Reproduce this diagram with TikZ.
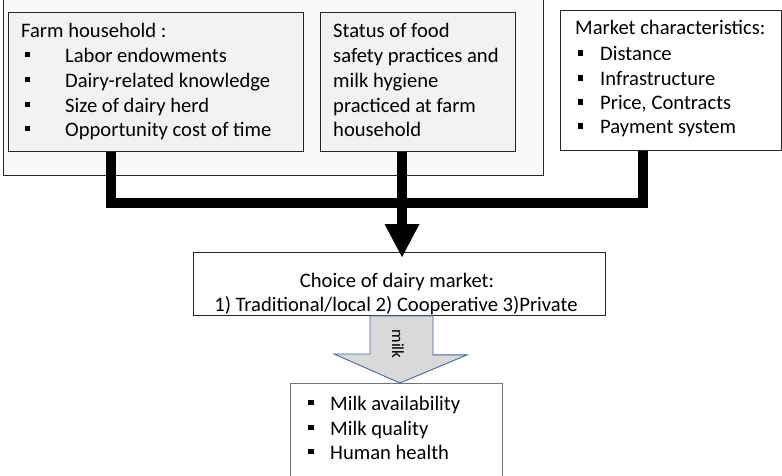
\documentclass[tikz,border=0pt]{standalone}
\usepackage{fontspec}
\setmainfont{Carlito}
\usetikzlibrary{arrows.meta,calc}
\definecolor{arrowblue}{RGB}{65,105,160}
\definecolor{boxgray}{RGB}{242,242,242}
\definecolor{outergray}{RGB}{248,248,248}
\begin{document}
\begin{tikzpicture}[x=1pt,y=-1pt,
  box/.style={draw=black!85, line width=0.9pt, inner sep=0pt, anchor=north west},
  txt/.style={anchor=base west, inner sep=0pt, font=\fontsize{20.6}{24}\selectfont},
  ctxt/.style={anchor=base, inner sep=0pt, font=\fontsize{20.6}{24}\selectfont},
  bul/.style={fill=black},
  bar/.style={line width=10pt, line join=miter}]
\useasboundingbox (0,0) rectangle (782,476);
\fill[white] (0,0) rectangle (782,476);
% boxes
\node[box, fill=outergray, minimum width=540pt, minimum height=185pt] (outer) at (3,-10) {};
\node[box, fill=boxgray, minimum width=295pt, minimum height=139pt] (farm) at (8,12) {};
\node[box, fill=boxgray, minimum width=195pt, minimum height=139pt] (status) at (320,12) {};
\node[box, fill=white, minimum width=221pt, minimum height=140pt] (market) at (560,10) {};
\node[box, fill=white, minimum width=412pt, minimum height=63pt] (choice) at (193,252) {};
\node[box, draw=black!55, fill=white, minimum width=212pt, minimum height=110pt] (result) at (290,383) {};
% farm text
\node[txt] (f0) at (21,38) {Farm household :};
\node[txt] (f1) at (65,63) {Labor endowments};
\node[txt] (f2) at (65,88) {Dairy-related knowledge};
\node[txt] (f3) at (65,113) {Size of dairy herd};
\node[txt] (f4) at (65,137) {Opportunity cost of time};
\foreach \y in {63,88,113,137} \fill[bul] (24.5,\y-5.5) rectangle ++(5.5,-5.5);
% status text
\node[txt] (s0) at (333,38) {Status of food};
\node[txt] (s1) at (333,63) {safety practices and};
\node[txt] (s2) at (333,88) {milk hygiene};
\node[txt] (s3) at (333,113) {practiced at farm};
\node[txt] (s4) at (333,137) {household};
% market text
\node[txt] (m0) at (575,35) {Market characteristics:};
\node[txt] (m1) at (600,61) {Distance};
\node[txt] (m2) at (600,86) {Infrastructure};
\node[txt] (m3) at (600,110) {Price, Contracts};
\node[txt] (m4) at (600,134) {Payment system};
\foreach \y in {61,86,110,134} \fill[bul] (577.5,\y-5) rectangle ++(5.5,-5.5);
% choice text
\node[ctxt] (c0) at (397,287) {Choice of dairy market:};
\node[ctxt] (c1) at (396,311) {1) Traditional/local 2) Cooperative 3)Private};
% result text
\node[txt] (r1) at (330,410) {Milk availability};
\node[txt] (r2) at (330,435) {Milk quality};
\node[txt] (r3) at (330,459) {Human health};
\foreach \y in {410,435,459} \fill[bul] (308,\y-5) rectangle ++(5.5,-5.5);
% connectors
\coordinate (j) at (402,203);
\draw[bar] ($(farm.south west)+(103,0)$) |- (j) -| ($(market.south west)+(83,0)$);
\draw[bar, -{Triangle[width=35pt 0 0,length=33pt 0 0,line width=0pt]}] ($(status.south west)+(82,0)$) -- ($(choice.north west)+(209,5)$);
% milk arrow
\draw[arrowblue, line width=0.9pt, fill=black!15]
  ($(choice.south west)+(177,0)$) -- ++(63,0) -- ++(0,39) -- ++(34,0)
  -- ($(result.north west)+(110,0)$) -- ++(-66,-29) -- ++(36,0) -- cycle;
\node[inner sep=0pt, rotate=-90, font=\fontsize{17}{19}\selectfont] (milk) at (398,344) {milk};
\end{tikzpicture}
\end{document}
